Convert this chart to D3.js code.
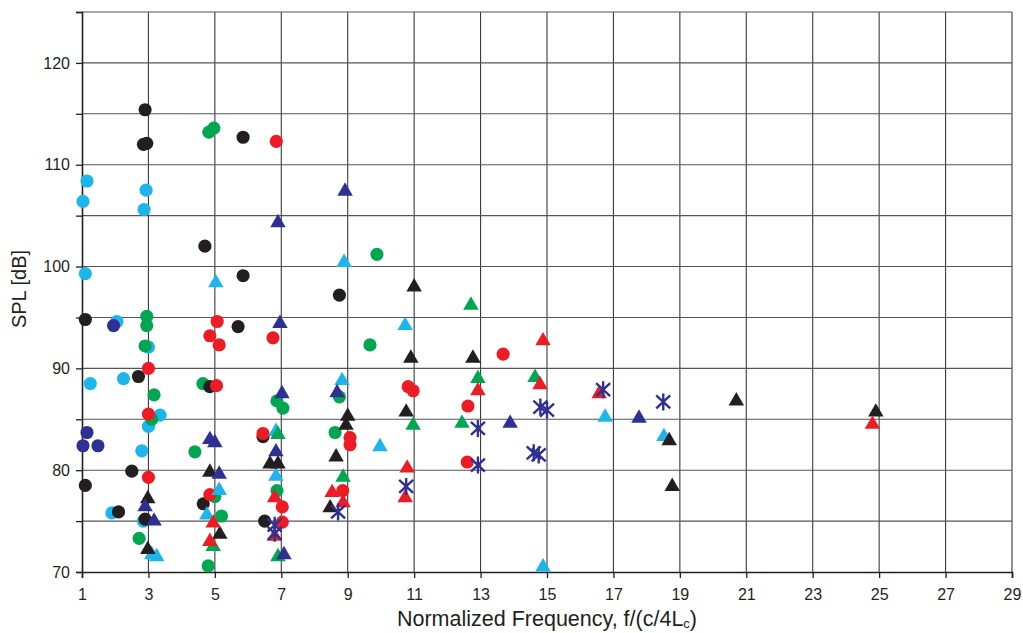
<!DOCTYPE html>
<html>
<head>
<meta charset="utf-8">
<script src="https://cdn.jsdelivr.net/npm/d3@7"></script>
<style>
    body { margin: 0; background: #fff; }
    text { font-family: "Liberation Sans", Arial, sans-serif; fill: #231f20; }
</style>
</head>
<body>
<div id="chart"></div>
<script>

// axis ticks
let xTicks = d3.range(1, 30, 2);
let yTicks = d3.range(70, 126, 5);

// series, [frequency, SPL]
let cyanCircles = [[1.15,108.4],[1.03,106.4],[1.1,99.3],[1.25,88.5],[2.05,94.6],[2.25,89.0],[2.93,107.5],[2.87,105.6],
    [3.0,92.1],[3.35,85.4],[3.0,84.3],[2.8,81.9],[1.9,75.8],[2.85,75.0]];
let blueCircles = [[1.95,94.2],[1.15,83.7],[1.03,82.4],[1.48,82.4]];
let greenCircles = [[2.95,95.1],[2.95,94.2],[2.9,92.2],[3.17,87.4],[3.1,85.0],[2.72,73.3],[4.82,113.2],[4.97,113.6],
    [4.64,88.5],[4.4,81.8],[5.0,77.4],[5.2,75.5],[4.8,70.6],[6.87,86.8],[7.05,86.1],[6.87,78.0],[8.75,87.2],
    [8.62,83.7],[9.67,92.3],[9.88,101.2]];
let blackCircles = [[1.1,94.8],[1.1,78.5],[2.9,115.4],[2.85,112.0],[2.95,112.1],[2.7,89.2],[2.5,79.9],[2.1,75.9],
    [2.9,75.2],[4.7,102.0],[5.85,112.7],[5.85,99.1],[5.7,94.1],[4.85,88.2],[4.65,76.7],[6.45,83.3],[6.5,75.0],[8.75,97.2]];
let redCircles = [[3.0,90.0],[3.0,85.5],[3.0,79.3],[5.07,94.6],[4.85,93.2],[5.13,92.3],[5.05,88.3],[6.85,112.3],
    [6.75,93.0],[6.45,83.6],[4.85,77.6],[7.03,76.4],[7.03,74.9],[9.07,83.2],[9.07,82.5],[8.85,78.0],[10.82,88.2],
    [10.97,87.8],[12.62,86.3],[12.6,80.8],[13.68,91.4]];

let cyanTriangles = [[3.1,71.7],[3.25,71.5],[5.03,98.4],[5.13,78.0],[4.76,75.6],[6.84,83.8],[6.84,79.4],[8.89,100.4],
    [8.83,88.8],[9.97,82.3],[10.73,94.2],[14.88,70.5],[16.75,85.2],[18.52,83.3]];
let greenTriangles = [[4.95,72.5],[6.9,83.5],[6.9,71.5],[8.86,79.3],[10.97,84.4],[12.44,84.6],[12.71,96.2],
    [12.92,89.0],[14.64,89.1]];
let blackTriangles = [[2.98,77.2],[2.98,72.2],[4.85,79.8],[5.15,73.7],[6.66,80.6],[6.9,80.6],[8.47,76.3],[8.65,81.3],
    [9.0,85.3],[8.95,84.4],[10.76,85.7],[10.9,91.0],[11.0,98.0],[12.77,91.0],[18.68,82.9],[18.77,78.4],[20.7,86.8],[24.9,85.7]];
let redTriangles = [[4.95,74.8],[4.85,73.0],[6.8,77.3],[6.8,73.5],[8.53,77.8],[8.86,76.8],[10.73,77.3],[10.79,80.2],
    [12.92,87.8],[14.79,88.4],[14.88,92.7],[16.57,87.5],[24.8,84.5]];
let blueTriangles = [[2.9,76.4],[3.17,75.0],[4.85,83.0],[5.0,82.7],[5.13,79.6],[6.96,94.4],[6.9,104.3],[7.02,87.5],
    [6.84,81.8],[7.08,71.7],[8.92,107.4],[8.68,87.6],[13.89,84.6],[17.77,85.1]];

let blueStars = [[6.8,74.6],[6.8,73.8],[8.71,75.9],[10.76,78.4],[12.92,84.1],[12.92,80.5],[14.8,86.2],[15.0,85.9],
    [14.6,81.7],[14.75,81.5],[16.69,87.9],[18.5,86.7]];

let colors = {black: "#231f20", cyan: "#1cb5ec", red: "#ed1c24", green: "#00a651", blue: "#2e3192"};

// draw order, back to front
let series = [
    {data: cyanCircles, color: colors.cyan, shape: "circle"},
    {data: blueCircles, color: colors.blue, shape: "circle"},
    {data: greenCircles, color: colors.green, shape: "circle"},
    {data: blackCircles, color: colors.black, shape: "circle"},
    {data: redCircles, color: colors.red, shape: "circle"},
    {data: cyanTriangles, color: colors.cyan, shape: "triangle"},
    {data: greenTriangles, color: colors.green, shape: "triangle"},
    {data: blackTriangles, color: colors.black, shape: "triangle"},
    {data: redTriangles, color: colors.red, shape: "triangle"},
    {data: blueTriangles, color: colors.blue, shape: "triangle"},
    {data: blueStars, color: colors.blue, shape: "star"}
];

let width = 1023, height = 633;
let margin = {top: 12, right: 11, bottom: 61, left: 82};

let svg = d3.select("#chart").append("svg")
    .attr("width", width)
    .attr("height", height);

let xScale = d3.scaleLinear().domain([1, 29]).range([margin.left, width - margin.right]);
let yScale = d3.scaleLinear().domain([70, 125]).range([height - margin.bottom, margin.top]);

// grid
let grid = svg.append("g").attr("stroke-width", 1.1);
grid.selectAll(".vline")
    .data(xTicks.slice(1))
    .enter().append("line")
    .attr("stroke", "#3a3a3a")
    .attr("x1", d => xScale(d)).attr("x2", d => xScale(d))
    .attr("y1", yScale(70)).attr("y2", yScale(125));
grid.selectAll(".hline")
    .data(yTicks.slice(1))
    .enter().append("line")
    .attr("stroke", "#555")
    .attr("y1", d => yScale(d)).attr("y2", d => yScale(d))
    .attr("x1", xScale(1)).attr("x2", xScale(29));

// axes
let yAxis = svg.append("g")
    .attr("transform", "translate(" + margin.left + ",0)")
    .call(d3.axisLeft(yScale).tickValues(yTicks).tickSize(6).tickPadding(6)
        .tickFormat(d => (d % 10 == 0 && d <= 120) ? d : ""));

let xAxis = svg.append("g")
    .attr("transform", "translate(0," + (height - margin.bottom) + ")")
    .call(d3.axisBottom(xScale).tickValues(xTicks).tickSize(6).tickPadding(11));

[xAxis, yAxis].forEach(function(a){
    a.select(".domain").attr("stroke", "#231f20").attr("stroke-width", 1.6);
    a.selectAll(".tick line").attr("stroke", "#231f20").attr("stroke-width", 1.3);
    a.selectAll(".tick text").attr("font-size", 16).attr("fill", "#231f20")
        .attr("font-family", "Liberation Sans, Arial, sans-serif");
});

// markers
let circleSym = d3.symbol().type(d3.symbolCircle).size(136);
let triSym = d3.symbol().type(d3.symbolTriangle).size(104);
let starPath = "M0,-8.5L0,8.5M-7,-6.5L7,6.5M-7,6.5L7,-6.5";

let marks = svg.append("g");
series.forEach(function(s){
    let g = marks.append("g");
    let pts = g.selectAll("path")
        .data(s.data)
        .enter().append("path")
        .attr("transform", d => "translate(" + xScale(d[0]) + "," + yScale(d[1]) + ")");
    if(s.shape == "circle")
        pts.attr("d", circleSym()).attr("fill", s.color);
    else if(s.shape == "triangle")
        pts.attr("d", triSym()).attr("fill", s.color);
    else
        pts.attr("d", starPath).attr("fill", "none").attr("stroke", s.color).attr("stroke-width", 2.4);
});

// axis titles
svg.append("text")
    .attr("transform", "translate(26," + ((margin.top + height - margin.bottom) / 2 - 3) + ") rotate(-90)")
    .attr("text-anchor", "middle")
    .attr("font-size", 20)
    .text("SPL [dB]");

let xLabel = svg.append("text")
    .attr("x", (margin.left + width - margin.right) / 2)
    .attr("y", 626)
    .attr("text-anchor", "middle")
    .attr("font-size", 21.5);
xLabel.append("tspan").text("Normalized Frequency, f/(c/4L");
xLabel.append("tspan").attr("font-size", 13).attr("dy", 2).text("c");
xLabel.append("tspan").attr("dy", -2).text(")");

</script>
</body>
</html>
